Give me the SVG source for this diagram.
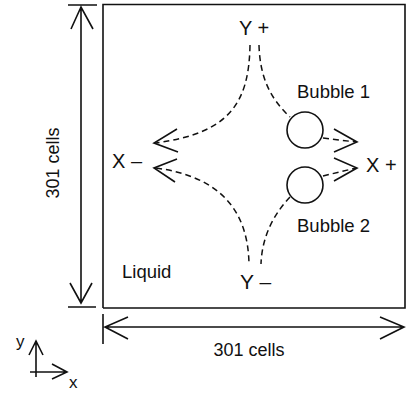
<svg xmlns="http://www.w3.org/2000/svg" width="407" height="393" viewBox="0 0 407 393">
<style>
.ln{fill:none;stroke:#111;stroke-width:1.6}
.ds{fill:none;stroke:#111;stroke-width:1.5;stroke-dasharray:6 4}
.t{font-family:"Liberation Sans",Arial,sans-serif;fill:#111}
</style>
<rect width="407" height="393" fill="#fff"/>
<g id="domain">
<path class="ln" d="M103 308 V4.5 H405 V308 H103"/>
</g>
<g id="dim-vertical">
<path class="ln" d="M68 5 H97 M68 307 H96 M81 7 V303 M71 29 L81 7 L93 29 M70 283 L81 303 L92 283"/>
<text class="t" font-size="18" text-anchor="middle" transform="translate(59,163) rotate(-90)">301 cells</text>
</g>
<g id="dim-horizontal">
<path class="ln" d="M103 314 V344 M105 327 H404 M128 317 L105 327 L128 339 M380 317 L404 327 L380 339"/>
<text class="t" font-size="18" text-anchor="middle" x="249" y="356">301 cells</text>
</g>
<g id="bubble1">
<circle class="ln" cx="305" cy="130" r="18"/>
<text class="t" font-size="18.5" x="297" y="98">Bubble 1</text>
</g>
<g id="bubble2">
<circle class="ln" cx="305" cy="185" r="18"/>
<text class="t" font-size="18.5" x="297" y="232">Bubble 2</text>
</g>
<g id="labels">
<text class="t" font-size="20" x="239" y="35">Y +</text>
<text class="t" font-size="21" x="240" y="289">Y –</text>
<text class="t" font-size="20" x="112" y="168">X –</text>
<text class="t" font-size="20" x="366" y="172">X +</text>
<text class="t" font-size="18.5" x="122" y="278">Liquid</text>
</g>
<g id="connectors">
<path class="ds" d="M250 45 C249 105 228 133 156 143"/>
<path class="ds" d="M259 45 C260 80 272 100 290 117"/>
<path class="ds" d="M156 168 C222 177 248 212 249 264"/>
<path class="ds" d="M290 197 C274 214 262 236 261 264"/>
<path class="ds" d="M323 138 L356 142"/>
<path class="ds" d="M323 176 L356 168"/>
<path class="ln" d="M177 129 L154 143 L178 152 M177 159 L154 168 L175 182"/>
<path class="ln" d="M334 129 L357 142 L334 152 M334 158 L357 168 L334 181"/>
</g>
<g id="axes">
<path class="ln" d="M36 377 V341 M29 355 L36 341 L43 355 M30 372 H67 M52 364 L67 372 L52 379"/>
<text class="t" font-size="17" x="16" y="347">y</text>
<text class="t" font-size="17" x="69" y="388">x</text>
</g>
</svg>
